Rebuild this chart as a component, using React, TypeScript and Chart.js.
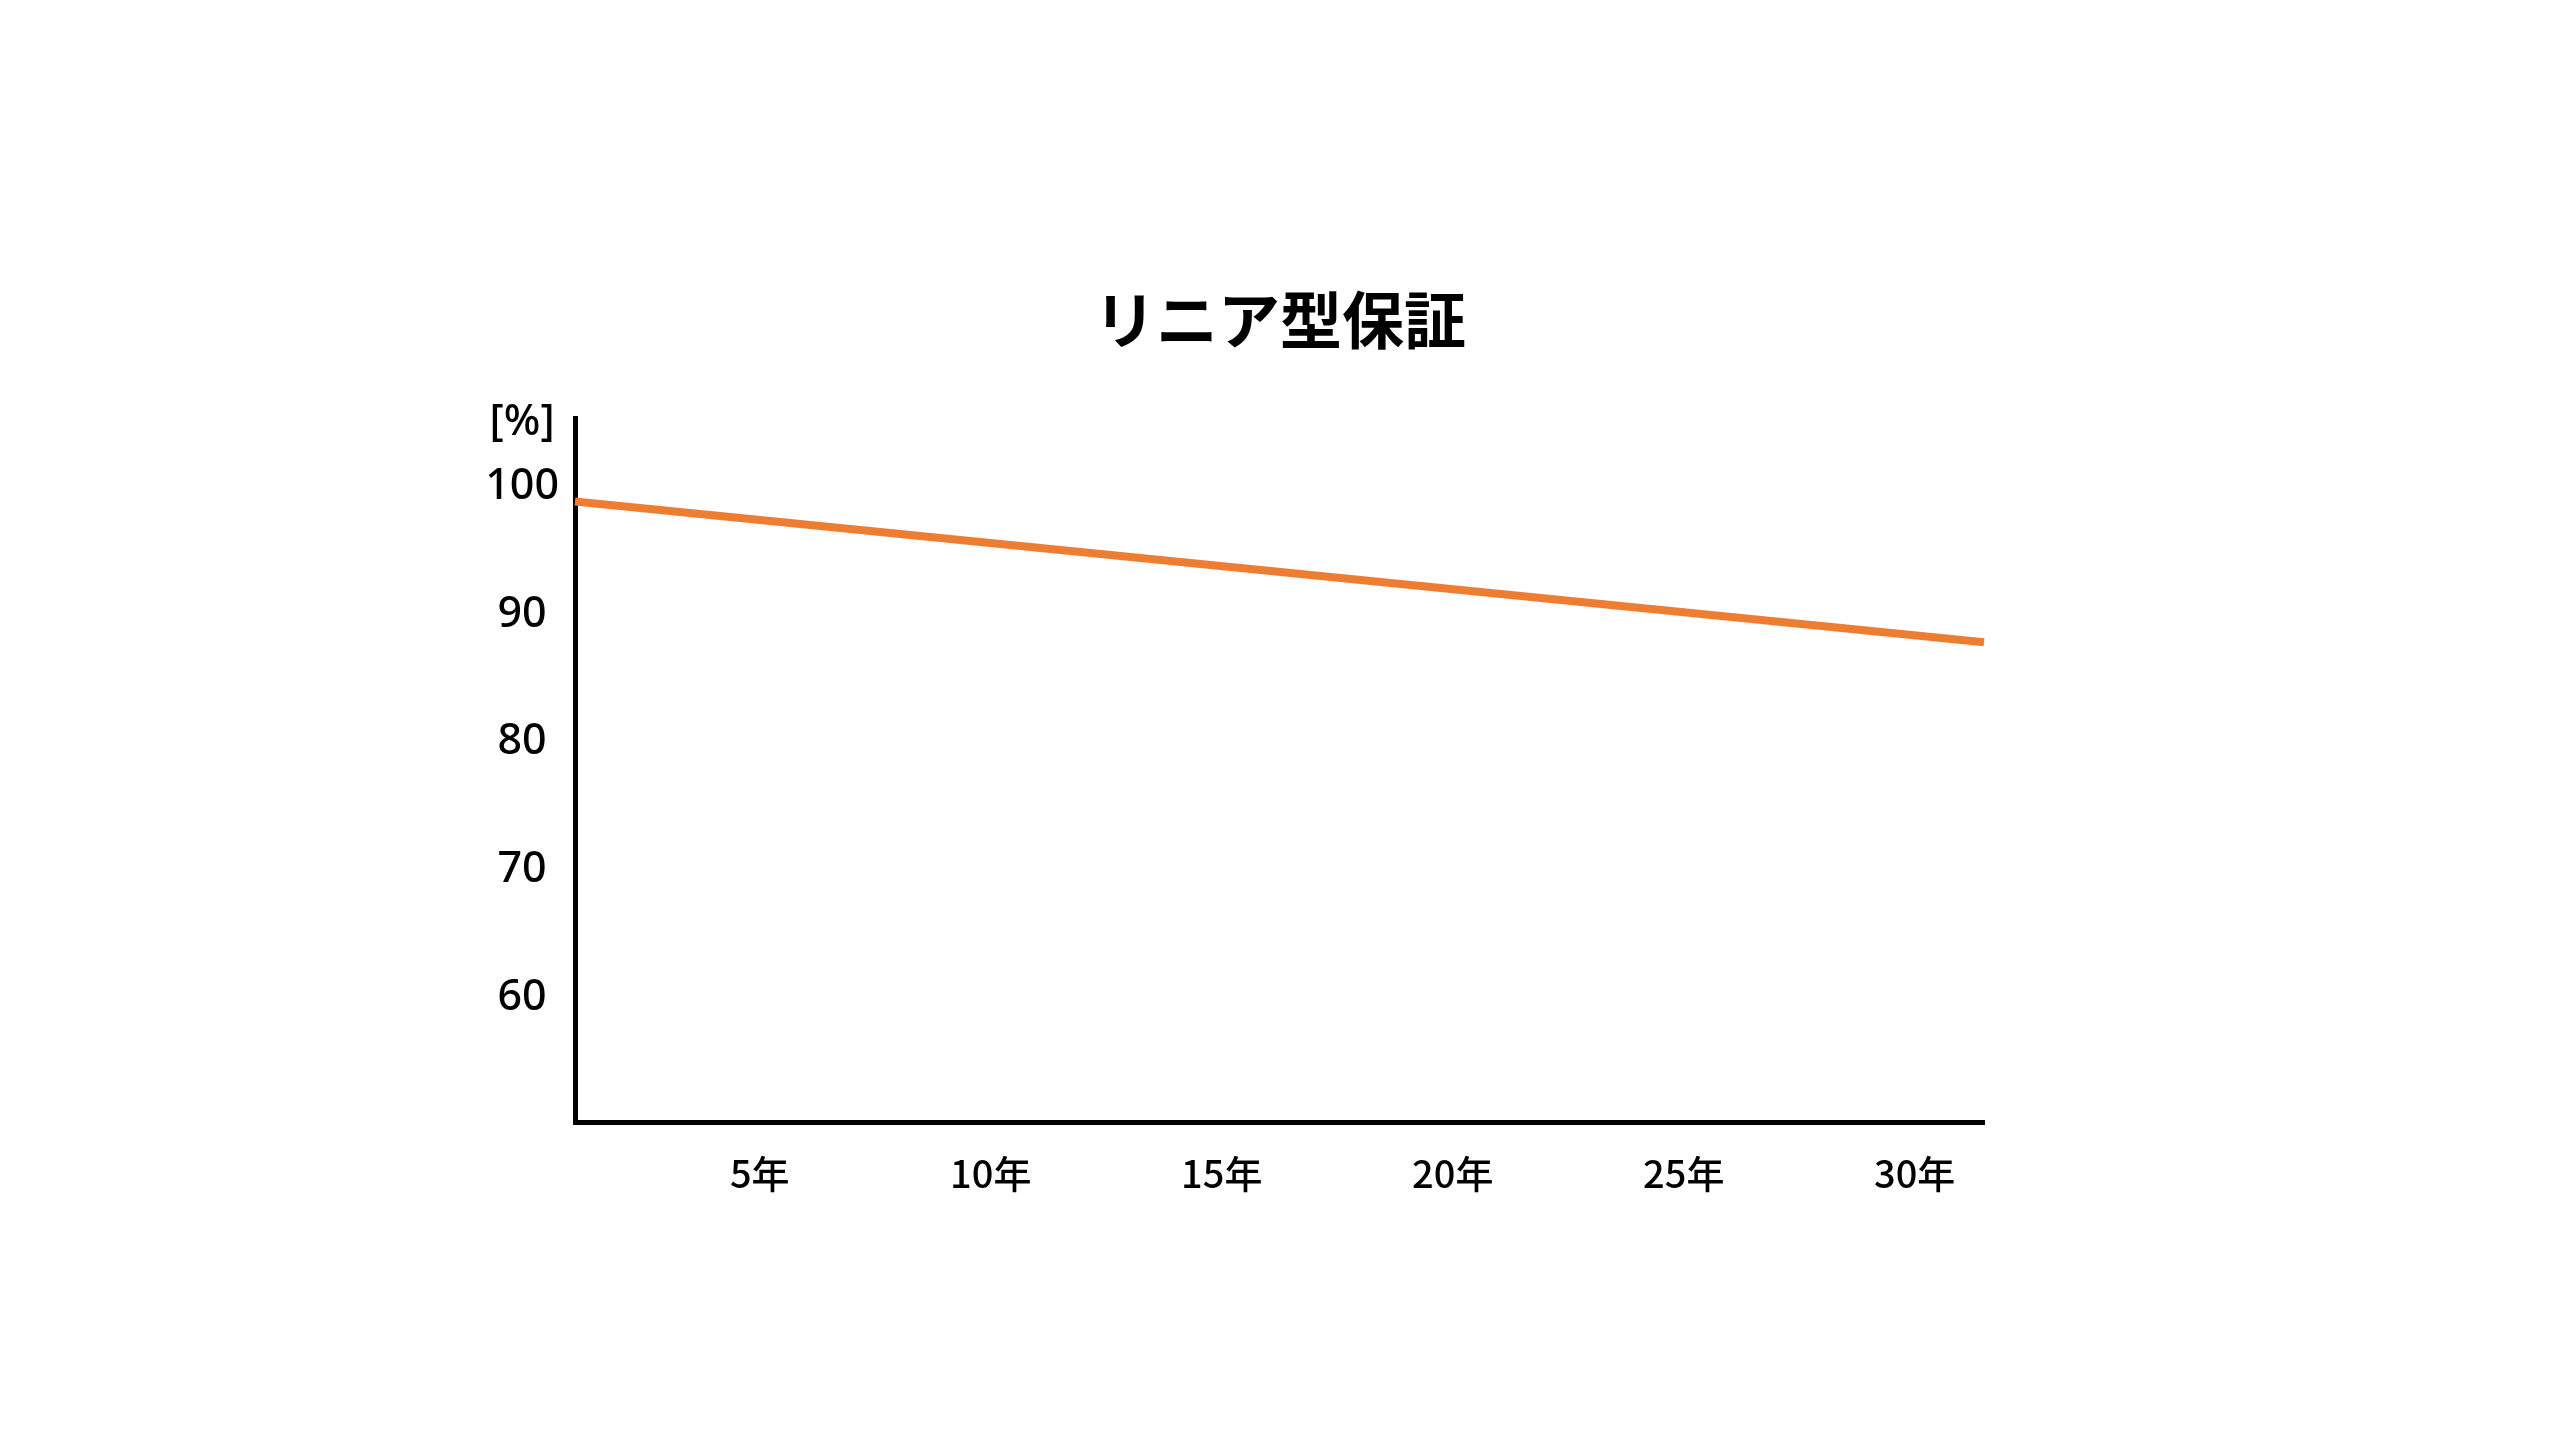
import React, { useEffect, useRef } from "react";
import { Chart, registerables } from "chart.js";

Chart.register(...registerables);

const titleText = "リニア型保証";
const unitLabel = "[%]";
const years = [1, 31.5];
const warrantyValues = [98.5, 87.5];
const xTickYears = [5, 10, 15, 20, 25, 30];
const yTickValues = [60, 70, 80, 90, 100];
const yUnitTick = 105;
const xMin = 1;
const xMax = 31.5;
const yMin = 50;
const yMax = 105;

const CJK = "'Noto Sans CJK JP', sans-serif";
const LATIN = "'Noto Sans', 'Open Sans', sans-serif";

export default function App() {
  const ref = useRef<HTMLCanvasElement | null>(null);

  useEffect(() => {
    if (!ref.current) return;
    const chart = new Chart(ref.current, {
      type: "line",
      data: {
        datasets: [
          {
            data: years.map((x, i) => ({ x, y: warrantyValues[i] })),
            borderColor: "#ED7D31",
            borderWidth: 8,
            pointRadius: 0,
            tension: 0,
            fill: false,
            clip: false as any,
          },
        ],
      },
      options: {
        animation: false,
        responsive: true,
        maintainAspectRatio: false,
        layout: { padding: 0 },
        plugins: {
          legend: { display: false },
          tooltip: { enabled: false },
          title: {
            display: true,
            text: titleText,
            color: "#000",
            font: { family: CJK, size: 62, weight: "bold" },
            padding: { top: 283, bottom: 61 },
          },
        },
        scales: {
          x: {
            type: "linear",
            min: xMin,
            max: xMax,
            grid: { display: false, drawTicks: false },
            border: { display: true, color: "#000", width: 5 },
            afterBuildTicks: (scale: any) => {
              scale.ticks = xTickYears.map((v) => ({ value: v }));
            },
            afterFit: (scale: any) => {
              scale.height = 319;
            },
            ticks: {
              autoSkip: false,
              maxRotation: 0,
              minRotation: 0,
              padding: 29,
              color: "#000",
              font: { family: CJK, size: 38, weight: "500" },
              callback: (v: any) => `${v}年`,
            },
          },
          y: {
            type: "linear",
            min: yMin,
            max: yMax,
            grid: { display: false, drawTicks: false },
            border: { display: true, color: "#000", width: 5 },
            afterBuildTicks: (scale: any) => {
              scale.ticks = [...yTickValues, yUnitTick].map((v) => ({ value: v }));
            },
            afterFit: (scale: any) => {
              scale.width = 575;
            },
            ticks: {
              autoSkip: false,
              padding: 16,
              labelOffset: 4,
              crossAlign: "center",
              color: "#000",
              font: { family: LATIN, size: 43, weight: "500", lineHeight: 1.1 },
              callback: (v: any) => (v === yUnitTick ? unitLabel : `${v}`),
            },
          },
          yRight: {
            type: "linear",
            position: "right",
            display: true,
            grid: { display: false, drawTicks: false },
            border: { display: false },
            ticks: { display: false },
            afterFit: (scale: any) => {
              scale.width = 576;
            },
          },
        },
      },
    });
    return () => chart.destroy();
  }, []);

  return (
    <div style={{ position: "fixed", left: 0, top: 0, width: 2560, height: 1441, background: "#fff" }}>
      <canvas ref={ref} />
    </div>
  );
}
